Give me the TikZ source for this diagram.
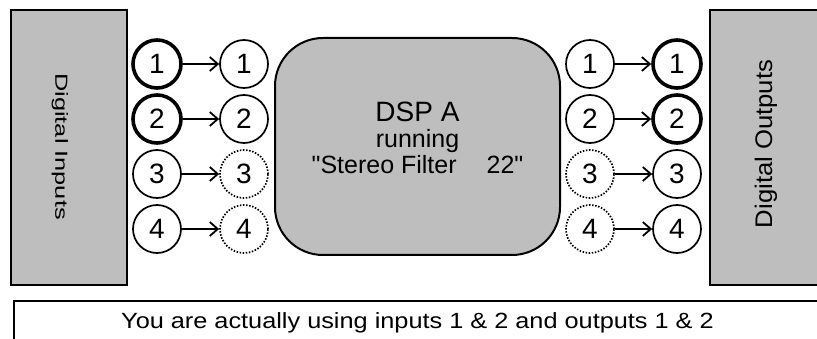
\documentclass[tikz,border=0pt]{standalone}
\usepackage{fontspec}
\setmainfont{Liberation Sans}
\usepackage{xcolor}
\usepackage{graphicx}
\usetikzlibrary{arrows.meta}
\definecolor{boxgray}{RGB}{190,190,190}

\begin{document}
\begin{tikzpicture}[x=1pt,y=-1pt,
  port/.style={circle,draw,line width=1.7pt,minimum size=48pt,inner sep=0pt,
    font=\fontsize{28}{28}\selectfont},
  usedport/.style={port,line width=3.6pt},
  idleport/.style={port,line width=1.7pt,dash pattern=on 1.5pt off 1.6pt},
  link/.style={line width=1.8pt,-{Straight Barb[length=8pt,width=14pt]}},
  panel/.style={draw,line width=2pt,fill=boxgray,inner sep=0pt}]
\useasboundingbox (0,0) rectangle (817,339);
\clip (0,0) rectangle (817,339);
% converter boxes
\node[panel,minimum width=116pt,minimum height=275pt] (inbox) at (69,147.5) {};
\node[rotate=-90,inner sep=0pt,font=\fontsize{17.5}{17.5}\selectfont] (inlabel) at (60,146.5)
  {\scalebox{1.45}[1]{Digital Inputs}};
\node[panel,minimum width=116pt,minimum height=275pt] (outbox) at (768,147.5) {};
\node[rotate=90,inner sep=0pt,font=\fontsize{24}{24}\selectfont] (outlabel) at (766,144)
  {\scalebox{1.07}[1]{Digital Outputs}};
% the DSP
\node[panel,rounded corners=48pt,minimum width=285pt,minimum height=217pt] (dsp) at (417.5,146.5) {};
\node[anchor=north,inner sep=0pt,align=center,font=\fontsize{25}{26}\selectfont] (dsptext)
  at (417.5,102) {{\fontsize{28}{28}\selectfont DSP A}\\running\\
  \textquotedbl Stereo Filter\hspace{30pt}22\textquotedbl};
% channels
\foreach \n/\y/\outer/\inner in {1/64/usedport/port,2/119/usedport/port,
    3/174/port/idleport,4/229/port/idleport} {
  \node[\outer] (in\n) at (157,\y) {\n};
  \node[\inner] (dspin\n) at (244,\y) {\n};
  \node[\inner] (dspout\n) at (590,\y) {\n};
  \node[\outer] (out\n) at (677,\y) {\n};
  \draw[link] (in\n) -- (dspin\n);
  \draw[link] (dspout\n) -- (out\n);
}
% note
\node[draw,line width=2pt,minimum width=810pt,minimum height=60pt,anchor=north west] (notebox) at (13,300) {};
\node[anchor=base,font=\fontsize{22}{22}\selectfont] (note) at (417.5,328)
  {\scalebox{1.15}[1]{You are actually using inputs 1 \& 2 and outputs 1 \& 2}};
\end{tikzpicture}
\end{document}
